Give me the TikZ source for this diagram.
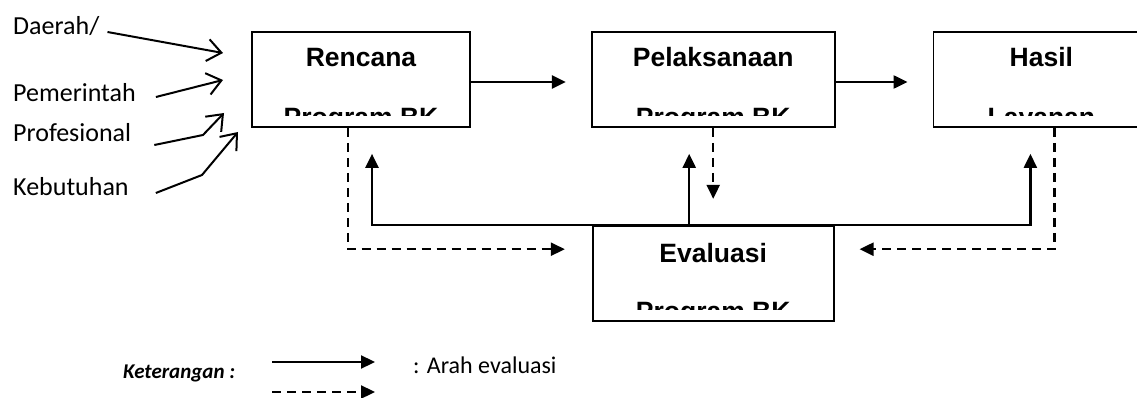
\documentclass[tikz,border=0pt]{standalone}
\usepackage{fontspec}
\setmainfont{Carlito}
\newfontfamily\arialfont{Liberation Sans}
\usepackage{tikz}
\usetikzlibrary{positioning,arrows.meta}
\def\BoxH{95pt}
\def\BoxGap{120pt}
\tikzset{
  blok/.style={draw, line width=1.7pt, minimum width=#1, minimum height=\BoxH, inner sep=0pt},
  judul/.style={font=\arialfont\bfseries\fontsize{26.5}{30}\selectfont, anchor=base, inner sep=0pt},
  potong/.style={path picture={
    \clip ([yshift=11pt]path picture bounding box.south west) rectangle (path picture bounding box.north east);
    \node[judul] at (path picture bounding box.south) {#1};}},
  sumber/.style={font=\fontsize{26}{30}\selectfont, anchor=base west, inner sep=0pt},
  masuk/.style={line width=2pt, -{Straight Barb[length=14pt,width=22pt,line width=2pt]}},
  panah/.style={line width=2.3pt, -{Triangle[length=14pt,width=13pt]}},
  putus/.style={panah, dash pattern=on 9pt off 6pt},
}
\begin{document}
\begin{tikzpicture}[x=1pt,y=-1pt]
  \useasboundingbox (0,0) rectangle (1137,398);
  \clip (0,0) rectangle (1137,398);
  \node[blok=218pt, potong=Program BK] (rencana) at (361,79.5) {};
  \node[blok=243pt, potong=Program BK, right=\BoxGap of rencana] (pelaksanaan) {};
  \node[blok=216pt, potong=Layanan, right=97pt of pelaksanaan] (hasil) {};
  \node[blok=241pt, potong=Program BK, below=97pt of pelaksanaan] (evaluasi) {};
  \node[judul] (rencana-t) at ([yshift=-35pt]rencana.north) {Rencana};
  \node[judul] (pelaksanaan-t) at ([yshift=-35pt]pelaksanaan.north) {Pelaksanaan};
  \node[judul] (hasil-t) at ([yshift=-35pt]hasil.north) {Hasil};
  \node[judul] (evaluasi-t) at ([yshift=-38pt]evaluasi.north) {Evaluasi};

  \node[sumber] (daerah) at (13,35) {Daerah/};
  \node[sumber] (pemerintah) at (13,102) {Pemerintah};
  \node[sumber] (profesional) at (13,142) {Profesional};
  \node[sumber] (kebutuhan) at (13,196) {Kebutuhan};
  \coordinate (m1) at (223,53);
  \coordinate (m2) at (223,80);
  \coordinate (m3) at (224,113);
  \coordinate (m4) at (238,132);
  \draw[masuk] ([shift={(8pt,3pt)}]daerah.base east) -- (m1);
  \draw[masuk] ([shift={(20pt,5pt)}]pemerintah.base east) -- (m2);
  \draw[masuk] ([shift={(23pt,-3pt)}]profesional.base east) -- (203,135) -- (m3);
  \draw[masuk] ([shift={(27pt,3pt)}]kebutuhan.base east) -- (202,175) -- (m4);

  \draw[panah, shorten >=25pt] ([yshift=-2.5pt]rencana.east) -- ([yshift=-2.5pt]pelaksanaan.west);
  \draw[panah, shorten >=25pt] ([yshift=-2.5pt]pelaksanaan.east) -- ([yshift=-2.5pt]hasil.west);

  \draw[panah, shorten >=26pt] (evaluasi.north west) -| ([xshift=11pt]rencana.south);
  \draw[panah, shorten >=26pt] (evaluasi.north east) -| ([xshift=-11pt]hasil.south);
  \draw[panah, shorten >=26pt] ([xshift=-24pt]evaluasi.north) -- ([xshift=-24pt]evaluasi.north |- pelaksanaan.south);
  \draw[line width=2.3pt] (evaluasi.north west) -- (evaluasi.north east);

  \draw[putus, shorten >=27pt] ([xshift=-13pt]rencana.south) |- ([yshift=24pt]evaluasi.west);
  \draw[putus, shorten >=25pt] ([xshift=13pt]hasil.south) |- ([yshift=24pt]evaluasi.east);
  \draw[putus, shorten >=26pt] (pelaksanaan.south) -- (pelaksanaan.south |- evaluasi.north);

  \node[font=\bfseries\itshape\fontsize{21}{24}\selectfont, anchor=base west, inner sep=0pt] (keterangan) at (123,378) {Keterangan :};
  \node[font=\fontsize{24}{28}\selectfont, anchor=base west, inner sep=0pt] (arah) at (413,373) {: Arah evaluasi};
  \coordinate (la1) at (272,362);
  \coordinate (la2) at (375,362);
  \coordinate (lb1) at (272,392);
  \coordinate (lb2) at (375,392);
  \draw[panah] (la1) -- (la2);
  \draw[putus] (lb1) -- (lb2);
\end{tikzpicture}
\end{document}
